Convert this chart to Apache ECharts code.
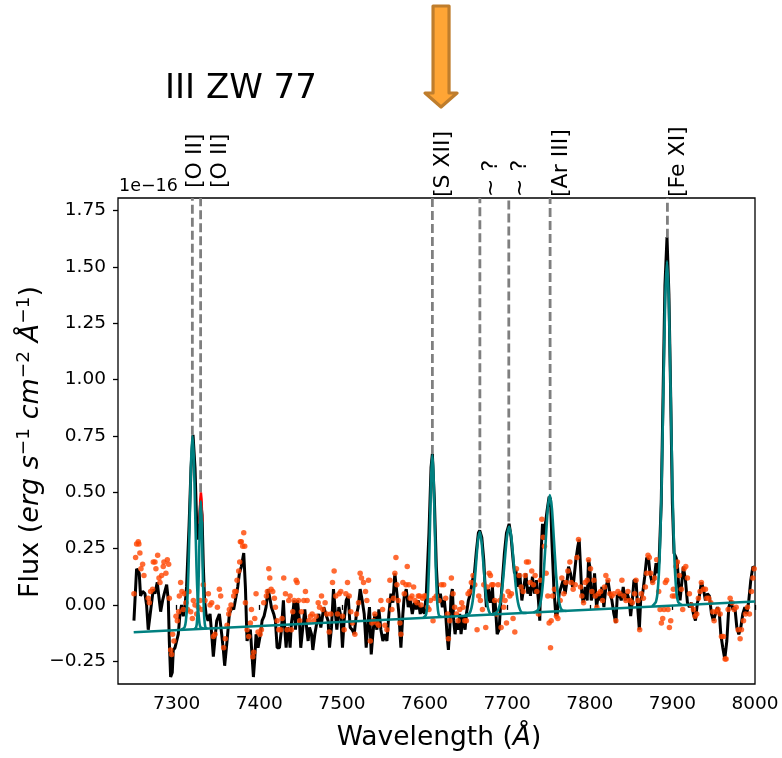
<!DOCTYPE html>
<html>
<head>
<meta charset="utf-8">
<script src="https://cdn.jsdelivr.net/npm/echarts@6/dist/echarts.min.js"></script>
<style>
html, body { margin: 0; padding: 0; background: #fff; }
#chart { width: 782px; height: 758px; }
</style>
</head>
<body>
<div id="chart"></div>
<script>
// observed spectrum (black line), [wavelength, flux / 1e-16]
var spectrum = [
  [7248.3,-0.07],[7251.5,0.16],[7254.7,0.14],[7256.3,0.04],[7258.8,0.06],[7261.6,0.05],[7263.6,0.0],[7265.6,-0.11],
  [7267.7,-0.05],[7269.7,-0.05],[7271.7,0.07],[7273.7,0.05],[7276.5,0.10],[7279,0.02],[7280.6,-0.03],[7283,0.02],
  [7285,0.05],[7287.9,0.09],[7289.9,0.02],[7291.1,-0.16],[7292.7,-0.32],[7294.7,-0.30],[7295.9,-0.20],[7298,-0.19],
  [7300,-0.16],[7302,-0.13],[7304,-0.04],[7306,0.0],[7308,-0.05],[7310,-0.01],[7312,0.08],[7315,0.35],
  [7317.4,0.61],[7319.8,0.755],[7322.2,0.61],[7324.5,0.33],[7326.4,0.29],[7328,0.40],[7329.1,0.46],[7330.7,0.40],
  [7332.3,0.17],[7333.8,0.02],[7335.5,-0.04],[7338,-0.07],[7340.4,-0.04],[7342.4,-0.13],[7344.4,-0.23],[7346.4,-0.15],
  [7348.5,-0.07],[7351.7,-0.04],[7354.5,-0.13],[7356.5,-0.20],[7358.1,-0.27],[7361,-0.16],[7363.8,-0.04],[7367,-0.01],
  [7369,-0.02],[7371,0.02],[7373.9,0.08],[7375.9,0.14],[7378.3,0.17],[7381.2,0.23],[7383.2,0.08],[7385.2,-0.16],
  [7387.2,-0.13],[7389.2,-0.11],[7391.3,-0.23],[7392.9,-0.32],[7394.5,-0.24],[7396.1,-0.13],[7398.5,-0.19],[7401.4,-0.13],
  [7403.4,-0.07],[7405.8,-0.05],[7408.2,-0.01],[7410.7,0.07],[7412.3,0.04],[7414.7,-0.01],[7417.5,-0.04],[7419.5,-0.07],
  [7421.6,-0.19],[7424.4,-0.19],[7426.8,-0.11],[7429.2,0.02],[7430.9,-0.11],[7432.5,-0.19],[7434.1,-0.10],[7435.7,-0.11],
  [7437.3,-0.19],[7438.9,-0.08],[7440.5,-0.04],[7442.2,0.02],[7443.8,-0.11],[7446.2,0.02],[7448.6,-0.07],[7450.2,-0.19],
  [7452.7,-0.10],[7455.1,-0.02],[7457.5,-0.11],[7459.1,-0.16],[7460.8,-0.10],[7463.2,-0.13],[7464.8,-0.20],[7467.2,-0.13],
  [7469.6,-0.08],[7472.1,-0.04],[7474.5,-0.10],[7478.1,-0.01],[7480.5,-0.04],[7483.3,-0.07],[7485,-0.19],[7487.4,-0.10],
  [7489.8,0.07],[7492.2,-0.04],[7493.9,-0.11],[7496.3,-0.01],[7498.7,-0.05],[7500.7,-0.19],[7502.7,-0.07],[7505.2,0.02],
  [7507.6,0.04],[7510,-0.10],[7512.4,-0.11],[7514.9,-0.13],[7517.3,-0.05],[7519.7,-0.01],[7522.1,0.07],[7524.6,0.02],
  [7527,-0.04],[7529.4,-0.19],[7531.8,-0.07],[7533.4,-0.01],[7535.5,-0.22],[7537.5,-0.13],[7539.9,-0.04],[7542.3,-0.11],
  [7544.8,-0.02],[7547.2,-0.11],[7549.6,-0.16],[7552,-0.13],[7554.5,-0.16],[7556.9,-0.04],[7559.3,0.05],[7561.7,0.01],
  [7564.1,0.14],[7566.6,0.05],[7569,-0.04],[7571.4,-0.19],[7573.8,-0.04],[7575.5,0.04],[7577.9,0.07],[7580.3,-0.01],
  [7582.7,0.02],[7585.2,-0.04],[7587.6,0.01],[7590,-0.02],[7592.4,0.02],[7594.8,-0.04],[7597.3,-0.01],[7599.7,-0.04],
  [7602.2,0.05],[7605.4,0.32],[7607.9,0.61],[7609.5,0.67],[7611.9,0.47],[7614.3,0.17],[7616.7,0.01],[7619.2,0.05],
  [7621.6,-0.01],[7624,0.02],[7625.6,-0.04],[7627.2,-0.13],[7628.9,-0.20],[7630.5,-0.11],[7632.1,0.04],[7633.7,0.07],
  [7635.3,-0.07],[7637,-0.13],[7638.6,-0.08],[7641,-0.11],[7642.6,-0.04],[7644.2,-0.13],[7646.6,-0.05],[7649.1,-0.11],
  [7650.7,-0.04],[7653.1,0.02],[7655.5,0.05],[7658,0.11],[7660.4,0.14],[7662.8,0.24],[7665.2,0.32],[7666.8,0.33],
  [7669.3,0.30],[7671.7,0.20],[7673.3,0.08],[7674.9,-0.01],[7677.3,0.07],[7679.8,0.01],[7682.2,0.08],[7683.8,-0.04],
  [7685.4,0.02],[7687.9,-0.13],[7690.3,-0.11],[7691.9,-0.01],[7694.3,0.11],[7696.7,0.23],[7699.2,0.32],[7702.4,0.36],
  [7704.8,0.30],[7707.2,0.20],[7708.9,0.14],[7710.5,0.155],[7712.9,0.08],[7715.3,0.14],[7717.8,0.02],[7720.2,0.08],
  [7722.6,0.14],[7725,0.05],[7727.4,0.08],[7728.2,0.04],[7730.6,0.125],[7733.1,0.05],[7735.5,0.11],[7737.9,0.02],
  [7739.5,-0.07],[7741.2,0.24],[7742.8,0.36],[7744.4,0.29],[7746,0.35],[7748.4,0.42],[7750.8,0.48],[7752.5,0.47],
  [7754.1,0.29],[7756.5,0.08],[7758.9,-0.05],[7760.6,-0.04],[7763,0.05],[7765.4,0.08],[7767.8,0.11],[7770.2,0.05],
  [7772.7,0.11],[7774.3,0.17],[7776.7,0.14],[7779.1,0.08],[7780.7,0.11],[7783.2,0.20],[7785.6,0.26],[7787.2,0.29],
  [7788.8,0.17],[7790.4,0.05],[7792.1,0.01],[7794.5,0.08],[7796.9,0.02],[7798.5,0.20],[7800.1,0.17],[7801.8,0.02],
  [7804.2,0.05],[7805.8,0.14],[7808.2,-0.01],[7810.6,0.05],[7813.1,0.02],[7814.7,0.08],[7817.1,-0.01],[7819.5,0.08],
  [7822,0.11],[7824.4,0.05],[7826.8,0.02],[7829.2,-0.04],[7831.6,-0.08],[7833.3,0.04],[7835.7,0.05],[7838.1,0.02],
  [7840.5,0.08],[7843,0.02],[7845.4,0.05],[7847.8,0.02],[7849.5,-0.05],[7851.5,0.02],[7853.5,0.11],[7856,0.11],
  [7857.6,0.01],[7860,-0.11],[7861.6,0.02],[7864,0.05],[7866.5,0.125],[7868.9,0.21],[7871.3,0.20],[7872.9,0.14],
  [7875.4,0.10],[7877.8,0.11],[7880.2,0.185],[7881.8,0.14],[7884,0.20],[7886.5,0.45],[7888.8,0.95],[7891,1.42],
  [7893.5,1.633],[7895.8,1.38],[7898,0.92],[7900,0.45],[7902,0.23],[7904.5,0.21],[7906,0.185],[7907.7,0.08],
  [7909.3,0.02],[7910.9,0.08],[7913.3,0.17],[7915.8,0.11],[7918.2,0.01],[7920.6,-0.01],[7923,0.01],[7925.5,-0.04],
  [7927.9,-0.07],[7930.3,0.01],[7932.7,0.04],[7935.1,0.10],[7937.6,0.07],[7940,0.02],[7942.4,0.05],[7944.8,0.04],
  [7947.3,-0.04],[7949.7,-0.07],[7952.1,-0.04],[7954.5,-0.01],[7956.9,-0.04],[7958.6,-0.13],[7961,-0.19],[7963.4,-0.24],
  [7965.9,-0.16],[7968.3,-0.01],[7970.7,0.02],[7973.2,-0.02],[7975.6,-0.01],[7978,-0.10],[7980.4,-0.13],[7982.8,-0.10],
  [7985.2,-0.04],[7987.7,-0.01],[7990.1,-0.04],[7992.5,0.02],[7994.9,0.11],[7997.4,0.17],[7999.8,0.163]
];

// individual data points (orange-red dots)
var pixels = [
  [7248.3,0.05],[7250.3,0.21],[7251.5,0.27],[7253.5,0.28],[7254.3,0.27],[7255.5,0.23],[7256.8,0.16],[7258.8,0.18],
  [7260.4,0.13],[7265.6,0.03],[7266.9,0.01],[7268.5,0.06],[7270.9,0.07],[7271.7,0.19],[7273.7,0.19],[7274.9,0.16],
  [7277,0.22],[7278.6,0.12],[7279.8,0.10],[7281.8,0.13],[7283.8,0.17],[7284.6,0.19],[7287,0.14],[7288.7,0.20],
  [7290.3,0.18],[7291.1,0.03],[7292.7,-0.20],[7293.9,-0.22],[7295.1,-0.13],[7296.7,-0.16],[7299.2,-0.05],[7300.8,-0.07],
  [7302.4,-0.03],[7303.2,0.04],[7304.8,0.10],[7306.4,0.06],[7308,-0.02],[7309.3,0.05],[7311.3,0.01],[7313.3,-0.02],
  [7314.9,0.06],[7317,-0.03],[7319,-0.06],[7320.2,0.02],[7322.2,0.0],[7324.2,-0.04],[7326.2,-0.01],[7328.3,0.02],
  [7330.3,-0.02],[7332.3,0.09],[7334.3,0.02],[7338.4,0.05],[7340.4,0.0],[7342.4,0.01],[7344.4,-0.14],[7346.4,-0.13],
  [7349.3,-0.01],[7351.7,0.07],[7353.3,0.04],[7356.9,-0.19],[7358.9,-0.15],[7361,-0.09],[7363,-0.04],[7363.8,-0.02],
  [7365.8,0.0],[7369,0.04],[7370.3,0.06],[7371.9,0.06],[7373.1,0.11],[7375.1,0.15],[7376.3,0.19],[7377.1,0.28],
  [7378.3,0.28],[7379.9,0.26],[7381.2,0.32],[7382.4,0.26],[7383.2,0.01],[7385.2,-0.11],[7387.2,-0.14],[7389.2,-0.08],
  [7390.5,-0.02],[7392.1,-0.23],[7393.3,-0.21],[7394.5,-0.06],[7396.1,0.05],[7398.5,-0.12],[7401,-0.13],[7402.6,-0.11],
  [7405.4,0.01],[7408.6,0.04],[7409.8,0.06],[7411.5,0.16],[7412.7,0.12],[7414.3,0.07],[7416.3,0.06],[7418.3,0.03],
  [7419.5,-0.01],[7421.6,-0.07],[7423.6,-0.11],[7426,-0.11],[7427.6,-0.06],[7429.6,0.12],[7431.7,0.05],[7433.7,-0.11],
  [7435.7,0.02],[7437.3,0.04],[7438.9,-0.11],[7440.5,-0.03],[7442.2,0.02],[7444.6,0.11],[7445.8,0.10],[7447.4,0.02],
  [7449,-0.07],[7451,-0.03],[7453.9,0.02],[7455.9,0.06],[7457.9,0.02],[7459.9,-0.07],[7462,-0.05],[7464,-0.04],
  [7466,-0.07],[7468.8,-0.05],[7471.3,0.01],[7472.9,-0.01],[7475.3,0.04],[7476.9,-0.02],[7479.7,0.01],[7481.7,-0.04],
  [7484.6,-0.12],[7486.6,-0.04],[7488.6,0.10],[7490.6,0.15],[7492.6,0.04],[7494.7,-0.04],[7496.7,0.05],[7498.7,0.06],
  [7500.7,-0.05],[7502.7,-0.11],[7504.8,0.05],[7506.8,0.10],[7508.8,0.04],[7510.8,-0.03],[7512.8,-0.08],[7515.7,-0.13],
  [7517.7,-0.04],[7520.1,0.01],[7522.1,0.14],[7523.7,0.12],[7526.2,0.10],[7528.6,0.06],[7530.2,0.02],[7532.2,0.11],
  [7534.3,-0.16],[7536.3,-0.08],[7538.3,-0.07],[7539.9,-0.04],[7542.3,-0.08],[7544.4,-0.09],[7547.2,0.02],[7549.2,-0.02],
  [7552,-0.09],[7554.5,-0.11],[7556.5,0.02],[7558.1,0.11],[7560.5,-0.02],[7562.5,0.03],[7564.1,0.14],[7565.4,0.21],
  [7566.6,0.09],[7568.2,0.02],[7570.2,-0.08],[7571.4,-0.13],[7573.8,0.10],[7575.5,0.05],[7577.5,0.09],[7579.1,0.17],
  [7581.1,0.09],[7582.7,0.03],[7584.8,0.04],[7586.8,0.08],[7588.4,0.02],[7590.8,0.01],[7592.4,0.04],[7594,0.04],
  [7595.7,0.0],[7597.7,0.03],[7599.7,0.04],[7601.7,0.04],[7603.7,-0.01],[7605.4,-0.02],[7607,0.02],[7610.3,-0.07],
  [7611.9,0.03],[7614.3,0.04],[7617.6,0.02],[7620.4,0.09],[7623.2,0.09],[7625.6,0.03],[7628,-0.04],[7628.9,-0.15],
  [7630.5,-0.07],[7632.5,0.12],[7634.5,0.05],[7636.5,-0.01],[7638.6,-0.04],[7640.6,-0.07],[7642.6,-0.02],[7645,0.01],
  [7646.6,-0.01],[7648.7,-0.07],[7650.7,-0.07],[7652.7,0.05],[7654.7,0.06],[7656.7,0.10],[7658.8,0.13],[7660.8,0.09],
  [7663.6,-0.11],[7665.6,0.04],[7667.6,0.02],[7670.1,-0.02],[7671.7,0.09],[7674.1,-0.10],[7676.1,0.08],[7678.2,0.14],
  [7679.8,0.13],[7681.4,0.09],[7683,0.09],[7685,0.02],[7687.1,-0.04],[7689.1,0.09],[7691.1,0.02],[7692.7,-0.10],
  [7694.3,0.04],[7695.9,-0.01],[7697.5,0.02],[7699.2,-0.08],[7701.2,0.06],[7703.2,0.04],[7705.2,0.05],[7707.2,-0.06],
  [7709.3,-0.12],[7711.3,0.16],[7714.5,0.13],[7716.9,0.08],[7719.4,0.06],[7721.8,0.13],[7723.4,0.19],[7725.8,0.19],
  [7727.8,0.10],[7729.8,0.15],[7731.9,0.09],[7733.9,0.13],[7735.9,0.06],[7737.9,-0.04],[7740.3,0.11],[7742,0.38],
  [7743.6,0.30],[7745.2,0.26],[7747.2,0.14],[7749.2,0.04],[7750.8,-0.08],[7752.5,-0.19],[7753.3,-0.07],[7754.9,0.04],
  [7757.3,0.07],[7759.7,-0.05],[7761.4,-0.06],[7764.2,0.02],[7766.2,0.12],[7768.6,0.05],[7771.1,0.10],[7773.5,0.15],
  [7775.9,0.19],[7777.5,0.10],[7779.9,0.07],[7782.4,0.09],[7784.4,0.21],[7786.4,0.29],[7788.8,0.08],[7790.4,0.04],
  [7792.5,0.01],[7794.5,0.10],[7796.9,0.11],[7798.5,0.20],[7800.9,0.16],[7802.6,0.06],[7805,0.11],[7806.6,0.04],
  [7808.6,-0.01],[7810.6,0.05],[7813.1,0.06],[7815.5,0.02],[7817.9,0.08],[7819.5,0.13],[7822,0.11],[7824.4,0.05],
  [7826.8,0.04],[7829.2,0.05],[7831.6,-0.07],[7834.1,0.06],[7836.5,0.05],[7838.9,0.11],[7841.3,0.04],[7843.8,0.02],
  [7846.2,0.06],[7848.6,0.02],[7851.5,0.01],[7854.3,0.05],[7856,0.11],[7858.4,0.02],[7860.4,-0.11],[7862.4,0.05],
  [7864.9,0.03],[7867.3,0.08],[7868.9,0.14],[7870.5,0.22],[7872.1,0.21],[7873.7,0.14],[7876.2,0.10],[7878.6,0.12],
  [7881,0.20],[7883.4,0.06],[7885.1,-0.02],[7886.7,-0.08],[7888.3,-0.06],[7889.9,-0.02],[7891.5,0.10],[7893.1,0.11],
  [7894.7,-0.02],[7896.4,-0.10],[7898,-0.07],[7900,0.04],[7901.2,0.07],[7902.8,0.04],[7904.4,0.17],[7906.1,0.19],
  [7908.5,0.13],[7910.9,0.07],[7912.5,-0.02],[7914.1,0.16],[7916.2,0.17],[7918.2,0.12],[7920.6,0.05],[7923,0.0],
  [7925.5,-0.02],[7927.5,-0.05],[7929.5,-0.04],[7931.5,0.03],[7933.5,0.06],[7935.1,0.10],[7937.6,0.07],[7940,0.07],
  [7941.6,0.03],[7944,0.03],[7946.5,0.01],[7948.9,-0.03],[7950.5,-0.07],[7952.9,-0.03],[7955.3,-0.02],[7957.8,-0.04],
  [7959.4,-0.14],[7961.8,-0.14],[7963.8,-0.24],[7965,-0.24],[7967.5,-0.02],[7969.9,0.03],[7972.3,0.01],[7974.7,-0.02],
  [7977.2,-0.01],[7979.6,-0.11],[7982,-0.15],[7983.6,-0.11],[7986.1,-0.07],[7988.5,-0.04],[7990.9,-0.01],[7993.3,-0.04],
  [7995.7,0.06],[7997.4,0.12],[7999,0.16]
];

// small red piece visible on top of the second [O II] peak
var redPeak = [[7327.6,0.36],[7328.6,0.47],[7329.3,0.50],[7330.1,0.47],[7331,0.37]];

// fitted model (teal): continuum and one curve per line
var fitContinuum = [[7248,-0.121],[8000,0.015]];
var fitOIIa = [[7305.6,-0.11],[7309.6,-0.099],[7311.2,-0.07],[7312.8,0.008],[7314.4,0.171],[7316,0.413],[7317.6,0.649],[7319.2,0.75],[7320.8,0.649],[7322.4,0.413],[7324,0.171],[7325.6,0.008],[7327.2,-0.07],[7328.8,-0.099],[7332.8,-0.106]];
var fitOIIb = [[7321.6,-0.107],[7323.5,-0.1],[7324.45,-0.081],[7325.4,-0.03],[7326.35,0.078],[7327.3,0.237],[7328.25,0.393],[7329.2,0.46],[7330.15,0.393],[7331.1,0.237],[7332.05,0.078],[7333,-0.03],[7333.95,-0.081],[7334.9,-0.1],[7336.8,-0.106]];
var fitSXII = [[7598.7,-0.057],[7601.4,-0.047],[7602.75,-0.023],[7604.1,0.042],[7605.45,0.179],[7606.8,0.382],[7608.15,0.58],[7609.5,0.665],[7610.85,0.58],[7612.2,0.382],[7613.55,0.179],[7614.9,0.042],[7616.25,-0.023],[7617.6,-0.047],[7620.3,-0.053]];
var fitQ1 = [[7648.8,-0.046],[7653.3,-0.041],[7655.55,-0.029],[7657.8,0.005],[7660.05,0.075],[7662.3,0.18],[7664.55,0.281],[7666.8,0.325],[7669.05,0.281],[7671.3,0.18],[7673.55,0.075],[7675.8,0.005],[7678.05,-0.029],[7680.3,-0.041],[7684.8,-0.042]];
var fitQ2 = [[7681.2,-0.042],[7686.5,-0.035],[7689.15,-0.022],[7691.8,0.013],[7694.45,0.087],[7697.1,0.196],[7699.75,0.302],[7702.4,0.348],[7705.05,0.302],[7707.7,0.196],[7710.35,0.087],[7713,0.013],[7715.65,-0.022],[7718.3,-0.035],[7723.6,-0.036]];
var fitArIII = [[7731.7,-0.034],[7736.7,-0.024],[7739.2,-0.007],[7741.7,0.04],[7744.2,0.138],[7746.7,0.284],[7749.2,0.427],[7751.7,0.488],[7754.2,0.427],[7756.7,0.284],[7759.2,0.138],[7761.7,0.04],[7764.2,-0.007],[7766.7,-0.024],[7771.7,-0.027]];
var fitFeXI = [[7875.5,-0.006],[7880,0.013],[7882.25,0.063],[7884.5,0.203],[7886.75,0.493],[7889,0.925],[7891.25,1.345],[7893.5,1.526],[7895.75,1.345],[7898,0.925],[7900.25,0.493],[7902.5,0.203],[7904.75,0.063],[7907,0.013],[7911.5,-0.001]];
var fitCurves = [fitContinuum, fitOIIa, fitOIIb, fitSXII, fitQ1, fitQ2, fitArIII, fitFeXI];

// line identifications
var lineNames = ['[O II]', '[O II]', '[S XII]', '~ ?', '~ ?', '[Ar III]', '[Fe XI]'];
var lineWaves = [7319, 7329, 7609.5, 7667, 7702, 7752, 7894];
var lineTops = [0.755, 0.50, 0.67, 0.34, 0.37, 0.51, 1.63];

var xTicks = [7300, 7400, 7500, 7600, 7700, 7800, 7900, 8000];
var yTicks = [-0.25, 0, 0.25, 0.5, 0.75, 1.0, 1.25, 1.5, 1.75];
var xMin = 7229, xMax = 8000;
var yMin = -0.351, yMax = 1.806;
var arrowWave = 7620;

var FONT = 'DejaVu Sans';
var chartDom = document.getElementById('chart');
var myChart = echarts.init(chartDom, null, { renderer: 'canvas' });

var series = [];
series.push({
  type: 'line', data: spectrum, showSymbol: false, z: 2,
  lineStyle: { color: '#000', width: 3 }
});
series.push({
  type: 'line', data: redPeak, showSymbol: false, z: 3,
  lineStyle: { color: '#ff0000', width: 2.5 }
});
series.push({
  type: 'scatter', data: pixels, symbolSize: 5.5, z: 4,
  itemStyle: { color: '#ff4500' }
});
fitCurves.forEach(function (c) {
  series.push({
    type: 'line', data: c, showSymbol: false, z: 5, smooth: 0.2,
    lineStyle: { color: '#008080', width: 2.6 }
  });
});
lineWaves.forEach(function (w, i) {
  series.push({
    type: 'line', data: [[w, lineTops[i]], [w, yMax]], showSymbol: false, z: 6,
    lineStyle: { color: '#7f7f7f', width: 2.8, type: [9, 4] }
  });
});

var option = {
  animation: false,
  backgroundColor: '#fff',
  grid: {
    left: 118, right: 27, top: 198, bottom: 74,
    show: true, borderColor: '#000', borderWidth: 1.3
  },
  xAxis: {
    type: 'value', min: xMin, max: xMax,
    axisLine: { show: false },
    splitLine: { show: false },
    axisTick: { show: true, length: 5, customValues: xTicks, lineStyle: { color: '#000', width: 1.3 } },
    axisLabel: {
      customValues: xTicks, margin: 11, color: '#000', fontSize: 18.5, fontFamily: FONT,
      formatter: function (v) { return String(v); }
    }
  },
  yAxis: {
    type: 'value', min: yMin, max: yMax,
    axisLine: { show: false },
    splitLine: { show: false },
    axisTick: { show: true, length: 5, customValues: yTicks, lineStyle: { color: '#000', width: 1.3 } },
    axisLabel: {
      customValues: yTicks, margin: 12, color: '#000', fontSize: 18.5, fontFamily: FONT,
      formatter: function (v) { return (v < 0 ? '\u2212' : '') + Math.abs(v).toFixed(2); }
    }
  },
  series: series
};
option && myChart.setOption(option);

// annotations above the axes
var px = function (w) { return myChart.convertToPixel({ gridIndex: 0 }, [w, 0])[0]; };
var labelNudge = [[-8, -9], [9, -9], [0, 0], [0, 0], [0, 0], [0, 0], [0, 0]];
var graphics = [];

lineNames.forEach(function (name, i) {
  graphics.push({
    type: 'text', x: px(lineWaves[i]) + labelNudge[i][0], y: 197 + labelNudge[i][1],
    rotation: Math.PI / 2,
    style: { text: name, fill: '#000', font: '22px "' + FONT + '"', align: 'left', verticalAlign: 'top' }
  });
});

graphics.push({
  type: 'text', x: 165, y: 89,
  style: { text: 'III ZW 77', fill: '#000', font: '34px "' + FONT + '"', align: 'left', verticalAlign: 'middle' }
});
graphics.push({
  type: 'text', x: 119, y: 186,
  style: { text: '1e\u221216', fill: '#000', font: '17.5px "' + FONT + '"', align: 'left', verticalAlign: 'middle' }
});

// axis titles
graphics.push({
  type: 'text', x: 439, y: 738,
  style: {
    text: '{n|Wavelength (}{i|\u00c5}{n|)}',
    align: 'center', verticalAlign: 'middle',
    rich: {
      n: { fontSize: 26.5, fontFamily: FONT, fill: '#000' },
      i: { fontSize: 26.5, fontFamily: FONT, fontStyle: 'italic', fill: '#000' }
    }
  }
});
graphics.push({
  type: 'text', x: 31, y: 442, rotation: Math.PI / 2,
  style: {
    text: '{n|Flux (}{i|erg s}{s|\u22121}{i| cm}{s|\u22122}{i| \u00c5}{s|\u22121}{n|)}',
    align: 'center', verticalAlign: 'middle',
    rich: {
      n: { fontSize: 27, fontFamily: FONT, fill: '#000', lineHeight: 32 },
      i: { fontSize: 27, fontFamily: FONT, fontStyle: 'italic', fill: '#000', lineHeight: 32 },
      s: { fontSize: 18.5, fontFamily: FONT, fill: '#000', lineHeight: 15, verticalAlign: 'top' }
    }
  }
});

// orange arrow pointing at [S XII]
var ax = px(arrowWave);
graphics.push({
  type: 'polygon',
  shape: { points: [[ax - 8, 6], [ax + 8, 6], [ax + 8, 93], [ax + 16, 93], [ax, 107], [ax - 16, 93], [ax - 8, 93]] },
  style: { fill: '#ffa535', stroke: '#bf7d2c', lineWidth: 3.2, lineJoin: 'round' }
});

myChart.setOption({ graphic: graphics });
</script>
</body>
</html>
